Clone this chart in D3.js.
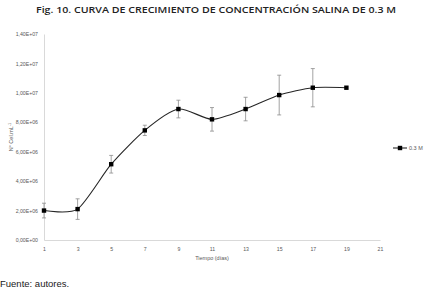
<!DOCTYPE html>
<html><head><meta charset="utf-8">
<script src="https://cdn.jsdelivr.net/npm/d3@7"></script>
<style>body{margin:0;background:#fff}svg{display:block}</style>
</head><body>
<svg id="c" width="432" height="291"></svg>
<script>
const days = [1, 3, 5, 7, 9, 11, 13, 15, 17, 19];
const cells = [2.0e6, 2.1e6, 5.15e6, 7.45e6, 8.9e6, 8.2e6, 8.9e6, 9.85e6, 10.35e6, 10.35e6];
const errs = [0.5e6, 0.7e6, 0.6e6, 0.35e6, 0.6e6, 0.8e6, 0.8e6, 1.35e6, 1.3e6, 0];
const yTicks = [0, 2e6, 4e6, 6e6, 8e6, 10e6, 12e6, 14e6];
const yTickLabels = ["0,00E+00","2,00E+06","4,00E+06","6,00E+06","8,00E+06","1,00E+07","1,20E+07","1,40E+07"];
const xTicks = [1,3,5,7,9,11,13,15,17,19,21];
const seriesName = "0.3 M";

const svg = d3.select("#c");
const x = d3.scaleLinear().domain([1, 21]).range([44, 380]);
const y = d3.scaleLinear().domain([0, 14e6]).range([240, 34]);
const font = "Liberation Sans, Arial, sans-serif";

svg.append("text").attr("x", 216).attr("y", 13).attr("text-anchor", "middle")
  .attr("font-family", "Open Sans, sans-serif").attr("font-size", 9.6).attr("font-weight", 600)
  .attr("fill", "#222").attr("textLength", 360).attr("lengthAdjust", "spacingAndGlyphs")
  .text("Fig. 10. CURVA DE CRECIMIENTO DE CONCENTRACIÓN SALINA DE 0.3 M");

// axes
const gy = svg.append("g").attr("transform", "translate(44,0)")
  .call(d3.axisLeft(y).tickValues(yTicks).tickSize(0).tickPadding(6).tickFormat((d,i)=>yTickLabels[i]));
const gx = svg.append("g").attr("transform", "translate(0,240)")
  .call(d3.axisBottom(x).tickValues(xTicks).tickSize(0).tickPadding(7));
[gx, gy].forEach(g => {
  g.select(".domain").attr("stroke", "#d9d9d9").attr("stroke-width", 1);
  g.selectAll("text").attr("font-family", font).attr("font-size", 5.2).attr("fill", "#595959");
});

svg.append("text").attr("transform", "translate(13,137) rotate(-90)").attr("text-anchor", "middle")
  .attr("font-family", font).attr("font-size", 5.5).attr("fill", "#595959")
  .text("N° Cel.mL").append("tspan").attr("dy", -2).attr("font-size", 4).text("-1");
svg.append("text").attr("x", 212).attr("y", 260).attr("text-anchor", "middle")
  .attr("font-family", font).attr("font-size", 5.5).attr("fill", "#595959").text("Tiempo (días)");

const pts = days.map((d, i) => ({d, v: cells[i], e: errs[i]}));

// error bars
const eb = svg.append("g").attr("stroke", "#8c8c8c").attr("stroke-width", 0.8);
pts.filter(p => p.e > 0).forEach(p => {
  eb.append("line").attr("x1", x(p.d)).attr("x2", x(p.d)).attr("y1", y(p.v + p.e)).attr("y2", y(p.v - p.e));
  [p.v + p.e, p.v - p.e].forEach(v => eb.append("line")
    .attr("x1", x(p.d) - 2).attr("x2", x(p.d) + 2).attr("y1", y(v)).attr("y2", y(v)));
});

const line = d3.line().x(p => x(p.d)).y(p => y(p.v)).curve(d3.curveCardinal.tension(0.3));
svg.append("path").datum(pts).attr("d", line).attr("fill", "none").attr("stroke", "#262626").attr("stroke-width", 1.1);

svg.append("g").selectAll("rect").data(pts).join("rect")
  .attr("x", p => x(p.d) - 2.2).attr("y", p => y(p.v) - 2.2).attr("width", 4.4).attr("height", 4.4).attr("fill", "#000");

// legend
const lg = svg.append("g").attr("transform", "translate(393,148)");
lg.append("line").attr("x1", 0).attr("x2", 14).attr("stroke", "#262626").attr("stroke-width", 1.1);
lg.append("rect").attr("x", 4.8).attr("y", -2.2).attr("width", 4.4).attr("height", 4.4).attr("fill", "#000");
lg.append("text").attr("x", 16).attr("y", 2).attr("font-family", font).attr("font-size", 5.5).attr("fill", "#595959").text(seriesName);

svg.append("text").attr("x", 0).attr("y", 287).attr("font-family", font).attr("font-size", 9.5).attr("fill", "#1a1a1a").text("Fuente: autores.");
</script>
</body></html>
